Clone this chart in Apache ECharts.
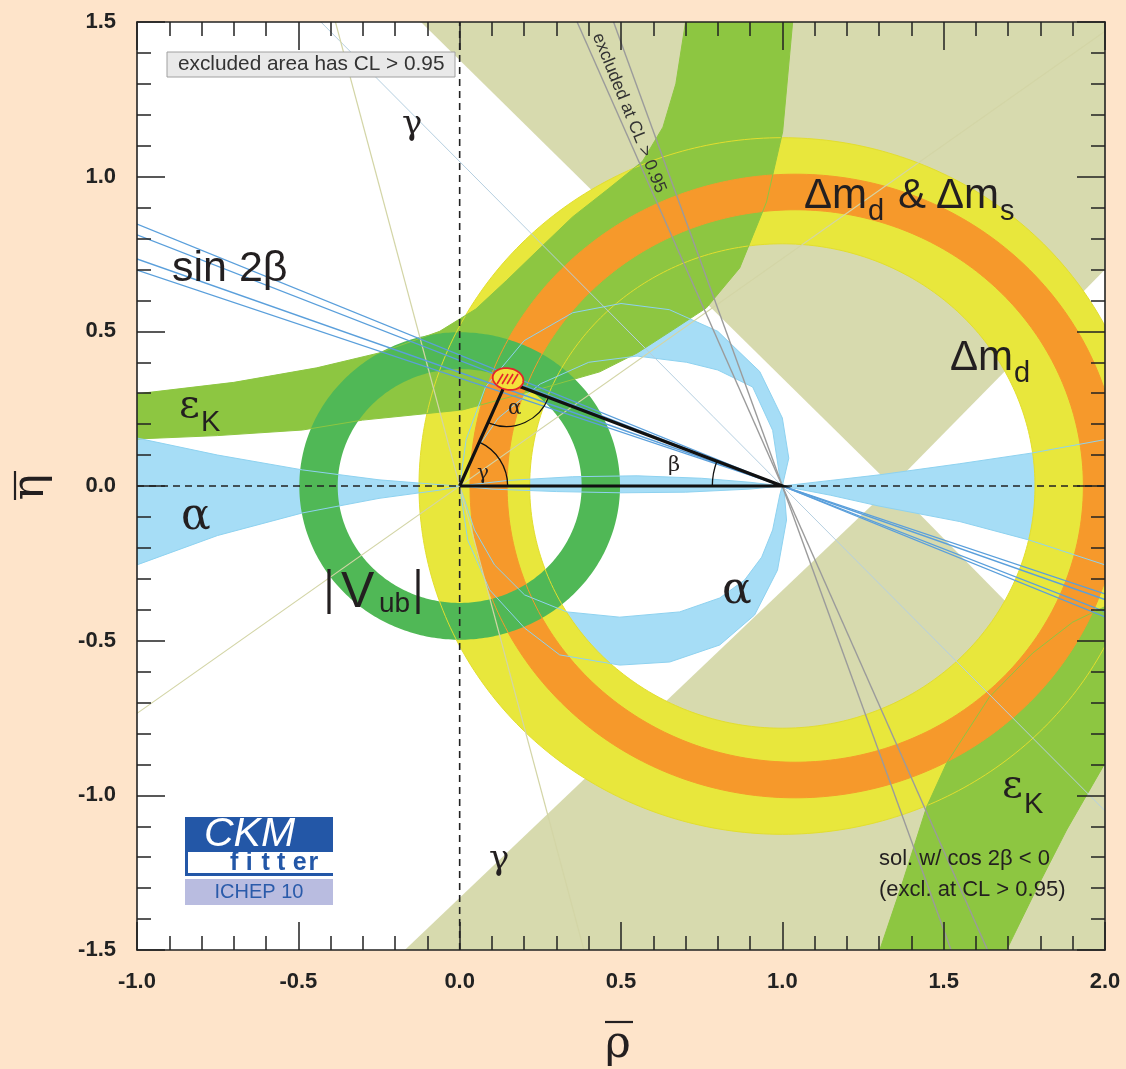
<!DOCTYPE html>
<html><head><meta charset="utf-8">
<script src="https://cdn.jsdelivr.net/npm/echarts@6/dist/echarts.min.js"></script>
<style>html,body{margin:0;padding:0;background:#FEE4CA;}#c{width:1126px;height:1069px;}</style>
</head><body><div id="c"></div>
<script>
// ---------- data (rho-bar, eta-bar coordinates) ----------
const xTickLabels = ['-1.0','-0.5','0.0','0.5','1.0','1.5','2.0'];
const yTickLabels = ['-1.5','-1.0','-0.5','0.0','0.5','1.0','1.5'];

// rings: [centerRho, centerEta, rInner, rOuter]
const dmdRing    = [1.00, 0.0, 0.783, 1.126];
const dmdDmsRing = [1.04, 0.0, 0.893, 1.008];
const vubRing    = [0.00, 0.0, 0.378, 0.497];

// cos2beta < 0 solution (excluded), two wedges
const cos2bUpper = [[1.34,0],[-0.12,1.5],[2,1.5],[2,0.70]];
const cos2bLower = [[1.34,0],[-0.17,-1.5],[2,-1.5],[2,-0.70]];

// epsilon_K bands
const epsKUpper = [[-1,0.298],[-0.7,0.335],[-0.443,0.382],[-0.25,0.43],[-0.062,0.50],[0.05,0.572],[0.146,0.665],[0.25,0.77],[0.35,0.87],[0.46,0.96],[0.567,1.05],[0.63,1.16],[0.67,1.3],[0.70,1.5],
  [1.032,1.5],[1.001,1.145],[0.951,0.918],[0.868,0.705],[0.765,0.576],[0.66,0.504],[0.55,0.43],[0.434,0.369],[0.27,0.32],[0.009,0.246],[-0.301,0.213],[-0.487,0.181],[-0.75,0.163],[-1,0.152]];
const epsKLower = [[1.302,-1.5],[1.37,-1.29],[1.447,-1.038],[1.509,-0.896],[1.642,-0.682],[1.776,-0.540],[1.9,-0.44],[2.0,-0.39],
  [2.0,-0.896],[1.881,-1.112],[1.786,-1.306],[1.695,-1.5]];

// alpha regions
const alphaAxis = [[-1,0.155],[-0.75,0.10],[-0.487,0.052],[-0.25,0.02],[-0.06,0.004],[0,0],[0.15,0.018],[0.35,0.03],[0.55,0.033],[0.75,0.025],[0.9,0.012],[1,0],[1.15,0.018],[1.3,0.036],[1.55,0.072],[1.776,0.107],[2,0.15],
  [2,-0.255],[1.766,-0.175],[1.55,-0.115],[1.3,-0.065],[1.15,-0.03],[1,0],[0.9,-0.01],[0.7,-0.02],[0.5,-0.022],[0.3,-0.018],[0.1,-0.01],[0,0],[-0.06,-0.013],[-0.25,-0.04],[-0.487,-0.087],[-0.75,-0.16],[-1,-0.255]];
const alphaUpper = [[0,0],[0.02,0.15],[0.08,0.32],[0.2,0.47],[0.35,0.56],[0.5,0.59],[0.65,0.57],[0.8,0.5],[0.93,0.37],[1.0,0.22],[1.02,0.09],[1.0,0],
  [0.992,0.03],[0.97,0.18],[0.908,0.32],[0.8,0.375],[0.703,0.40],[0.55,0.42],[0.4,0.40],[0.25,0.33],[0.12,0.22],[0.04,0.1]];
const alphaLower = [[0,0],[0.025,-0.175],[0.093,-0.336],[0.201,-0.459],[0.31,-0.546],[0.496,-0.579],[0.651,-0.569],[0.806,-0.514],[0.914,-0.417],[0.985,-0.272],[1.013,-0.11],[1.006,-0.019],[1,0],
  [0.992,-0.029],[0.97,-0.142],[0.936,-0.23],[0.883,-0.304],[0.806,-0.362],[0.682,-0.407],[0.496,-0.424],[0.332,-0.407],[0.201,-0.352],[0.108,-0.255],[0.046,-0.142],[0.015,-0.045]];

// straight-line constraints: [start, end]
const sin2bLines = [[[-1,0.698],[2,-0.349]],[[-1,0.734],[2,-0.367]],[[-1,0.812],[2,-0.406]],[[-1,0.847],[2,-0.4235]]];
const exclLines  = [[[0.364,1.5],[1.636,-1.5]],[[0.477,1.5],[1.523,-1.5]]];
const gammaLines = [[[-1,-0.735],[2,1.47]],[[-0.385,1.5],[0.385,-1.5]]];
const alphaLine  = [[-0.43,1.5],[2,-1.05]];
const zeroLines  = [[[0,-1.5],[0,1.5]],[[-1,0],[2,0]]];

// unitarity triangle apex and fit ellipse [rho, eta, semiRho, semiEta, tilt]
const apex = [0.145, 0.338];
const apexFit = [0.150, 0.346, 0.050, 0.036, -0.35];

// ---------- colours ----------
const C = {khaki:'#D7DAAE', alpha:'#A6DDF6', alphaLine:'#8ED2F0', yellow:'#E8E73C', yellowLine:'#E2DE2E',
  orange:'#F6992B', epsK:'#8DC641', vub:'#50B856', sin2b:'#5A9FDB', gray:'#9B9B9B', gamma:'#D3D5A6', text:'#231F20'};

// ---------- helpers ----------
function P(api, pts){ return pts.map(p => api.coord(p)); }
function circ(api, cx, cy, r, dir){ const out=[]; const n=360; for(let i=0;i<=n;i++){const t=dir*2*Math.PI*i/n; out.push(api.coord([cx+r*Math.cos(t), cy+r*Math.sin(t)]));} return out; }
function d(pts){ return pts.map((p,i)=>(i?'L':'M')+p[0].toFixed(2)+' '+p[1].toFixed(2)).join('')+'Z'; }
function ringEl(api, ring, fill){ return {type:'path', shape:{pathData: d(circ(api,ring[0],ring[1],ring[3],1)) + d(circ(api,ring[0],ring[1],ring[2],-1))}, style:{fill}}; }
function circLine(api, cx, cy, r, stroke, w){ return {type:'polyline', shape:{points:circ(api,cx,cy,r,1)}, style:{stroke, lineWidth:w, fill:null}}; }
function poly(api, pts, fill){ return {type:'polygon', shape:{points:P(api,pts), smooth:0}, style:{fill}}; }
function outline(api, pts, stroke, w){ const q=P(api,pts); q.push(q[0]); return {type:'polyline', shape:{points:q}, style:{stroke, lineWidth:w, fill:null}}; }
function seg(api, s, stroke, w, dash){ return {type:'polyline', shape:{points:P(api,s)}, style:{stroke, lineWidth:w, fill:null, lineDash:dash||null}}; }
function layer(z, build){ return {type:'custom', coordinateSystem:'cartesian2d', clip:true, silent:true, z, data:[[0,0]],
  renderItem:(params, api)=>({type:'group', children: build(api)})}; }

const series = [
  layer(1, api => [poly(api,cos2bUpper,C.khaki), poly(api,cos2bLower,C.khaki)]),
  layer(2, api => [poly(api,alphaAxis,C.alpha), poly(api,alphaUpper,C.alpha), poly(api,alphaLower,C.alpha)]),
  layer(3, api => [ringEl(api,dmdRing,C.yellow)]),
  layer(4, api => [poly(api,epsKUpper,C.epsK), poly(api,epsKLower,C.epsK)]),
  layer(5, api => [ringEl(api,dmdDmsRing,C.orange)]),
  layer(6, api => [ringEl(api,vubRing,C.vub)]),
  layer(7, api => [
    circLine(api,dmdRing[0],dmdRing[1],dmdRing[2],C.yellowLine,1), circLine(api,dmdRing[0],dmdRing[1],dmdRing[3],C.yellowLine,1),
    circLine(api,dmdDmsRing[0],dmdDmsRing[1],dmdDmsRing[2],C.orange,1), circLine(api,dmdDmsRing[0],dmdDmsRing[1],dmdDmsRing[3],C.orange,1),
    outline(api,epsKUpper,C.epsK,1), outline(api,epsKLower,C.epsK,1),
    outline(api,alphaAxis,C.alphaLine,1), outline(api,alphaUpper,C.alphaLine,1), outline(api,alphaLower,C.alphaLine,1),
    seg(api,alphaLine,'#B5CFE0',1)
  ]),
  layer(8, api => [
    ...gammaLines.map(s=>seg(api,s,C.gamma,1.2)),
    ...sin2bLines.map(s=>seg(api,s,C.sin2b,1.3)),
    ...exclLines.map(s=>seg(api,s,C.gray,1.4)),
    ...zeroLines.map(s=>seg(api,s,'#222',1.6,[7,5]))
  ]),
  layer(9, api => {
    const o=api.coord([0,0]), b=api.coord([1,0]), a=api.coord(apex);
    const ang=(p,q)=>Math.atan2(q[1]-p[1], q[0]-p[0]);
    const arcs=[
      {type:'arc', shape:{cx:o[0],cy:o[1],r:48,startAngle:ang(o,a),endAngle:0,clockwise:true}, style:{stroke:'#111',lineWidth:1.3,fill:null}},
      {type:'arc', shape:{cx:a[0],cy:a[1],r:45,startAngle:ang(a,b),endAngle:ang(a,o),clockwise:true}, style:{stroke:'#111',lineWidth:1.3,fill:null}},
      {type:'arc', shape:{cx:b[0],cy:b[1],r:70,startAngle:Math.PI,endAngle:ang(b,a)+2*Math.PI,clockwise:true}, style:{stroke:'#111',lineWidth:1.3,fill:null}}
    ];
    const tri={type:'polyline', shape:{points:[o,b,a,o]}, style:{stroke:'#111',lineWidth:3.2,fill:null,lineJoin:'miter'}};
    const [ex,ey,rx,ry,tilt]=apexFit; const ep=[];
    for(let i=0;i<=72;i++){const t=2*Math.PI*i/72; const u=rx*Math.cos(t), v=ry*Math.sin(t);
      ep.push(api.coord([ex+u*Math.cos(tilt)-v*Math.sin(tilt)*0.6, ey+u*Math.sin(tilt)*0.6+v*Math.cos(tilt)]));}
    const c=api.coord([ex,ey]);
    const hatch=[-8,-3,2,7].map(dx=>({type:'line', shape:{x1:c[0]+dx-3,y1:c[1]+5,x2:c[0]+dx+3,y2:c[1]-5}, style:{stroke:'#E3262B',lineWidth:1.6}}));
    return [tri, ...arcs, {type:'polygon', shape:{points:ep}, style:{fill:'#F4E03C', stroke:'#E3262B', lineWidth:1.8}}, ...hatch];
  })
];

// ---------- text helpers ----------
const SANS='"Liberation Sans", Arial, sans-serif', SERIF='"DejaVu Serif", "Liberation Serif", serif';
function T(x, y, s, size, o){ o=o||{}; return {type:'text', x, y, rotation:o.rot||0, z:100, silent:true,
  style:{text:s, fill:o.color||C.text, fontSize:size, fontFamily:o.family||SANS, fontWeight:o.weight||'normal', fontStyle:o.style||'normal',
    textAlign:o.align||'left', align:o.align||'left', textVerticalAlign:'middle', verticalAlign:'middle'}}; }
function TB(x, base, s, size, o){ return T(x, base-0.34*size, s, size, o); }

const graphics = [
  {type:'rect', shape:{x:167,y:52,width:288,height:25}, style:{fill:'#E9E9E9', stroke:'#A0A0A0', lineWidth:1}, z:99},
  TB(178, 71.5, 'excluded area has CL > 0.95', 20.8, {color:'#333'}),
  T(597, 34, 'excluded at CL > 0.95', 17.5, {rot:-1.186, color:'#333'}),
  TB(402, 137, 'γ', 34, {family:SERIF}),
  TB(489, 872, 'γ', 34, {family:SERIF}),
  TB(172, 284, 'sin 2β', 43),
  TB(179, 420, 'ε', 40, {family:SERIF}), TB(201, 433, 'K', 29),
  TB(1002, 800, 'ε', 40, {family:SERIF}), TB(1024, 815, 'K', 29),
  TB(181, 533, 'α', 44, {family:SERIF}), TB(722, 607, 'α', 44, {family:SERIF}),
  {type:'line', shape:{x1:329,y1:569,x2:329,y2:614}, style:{stroke:C.text, lineWidth:3.2}, z:100},
  TB(341, 610, 'V', 50), TB(379, 614, 'ub', 28),
  {type:'line', shape:{x1:418,y1:569,x2:418,y2:614}, style:{stroke:C.text, lineWidth:3.2}, z:100},
  TB(804, 211, 'Δm', 42), TB(868, 222, 'd', 29), TB(898, 211, '&', 42), TB(936, 211, 'Δm', 42), TB(1000, 222, 's', 29),
  TB(950, 373, 'Δm', 42), TB(1014, 384, 'd', 29),
  TB(508, 416, 'α', 20, {family:SERIF}), TB(477, 481, 'γ', 20, {family:SERIF}), TB(668, 473, 'β', 21, {family:SERIF}),
  TB(879, 866, 'sol. w/ cos 2β < 0', 22), TB(879, 897, '(excl. at CL > 0.95)', 22),
  {type:'rect', shape:{x:185,y:817,width:148,height:59}, style:{fill:'#2357A7'}, z:99},
  {type:'rect', shape:{x:188,y:852,width:145,height:21}, style:{fill:'#FFFFFF'}, z:99},
  {type:'rect', shape:{x:185,y:879,width:148,height:26}, style:{fill:'#B9BCE0'}, z:99},
  TB(204, 849, 'CKM', 41, {color:'#FFFFFF', style:'italic'}),
  ...['f','i','t','t','e','r'].map((ch,i)=>TB(230+i*15.7, 872, ch, 25, {color:'#2357A7', weight:'bold'})),
  T(259, 892, 'ICHEP 10', 20, {color:'#2A5BAA', align:'center'}),
  T(32, 487, 'η', 44, {family:SERIF, rot:Math.PI/2, align:'center'}),
  {type:'line', shape:{x1:15,y1:471,x2:15,y2:500}, style:{stroke:C.text, lineWidth:2.2}, z:100},
  T(618, 1046, 'ρ', 44, {family:SERIF, align:'center'}),
  {type:'line', shape:{x1:605,y1:1022,x2:633,y2:1022}, style:{stroke:C.text, lineWidth:2.2}, z:100}
];

function axisCommon(labels, minV, show){ return {
  type:'value', z:10, axisLine:{show:true, onZero:false, lineStyle:{color:'#222', width:1.6}},
  axisTick:{show:true, inside:true, length:28, lineStyle:{color:'#222', width:1.5}},
  minorTick:{show:true, splitNumber:5, length:14, lineStyle:{color:'#222', width:1.5}},
  splitLine:{show:false}, minorSplitLine:{show:false},
  axisLabel:{show:show, fontSize:22, fontWeight:'bold', color:'#222', fontFamily:SANS, margin:21,
    formatter:(v)=>labels[Math.round((v-minV)/0.5)] }
};}

const option = {
  animation:false,
  backgroundColor:'#FEE4CA',
  grid:{left:137, top:22, width:968, height:928, show:true, backgroundColor:'#FFFFFF', borderWidth:0},
  xAxis:[Object.assign(axisCommon(xTickLabels,-1,true),{min:-1,max:2,interval:0.5,position:'bottom'}),
         Object.assign(axisCommon(xTickLabels,-1,false),{min:-1,max:2,interval:0.5,position:'top'})],
  yAxis:[Object.assign(axisCommon(yTickLabels,-1.5,true),{min:-1.5,max:1.5,interval:0.5,position:'left'}),
         Object.assign(axisCommon(yTickLabels,-1.5,false),{min:-1.5,max:1.5,interval:0.5,position:'right'})],
  series,
  graphic: graphics
};
const chart = echarts.init(document.getElementById('c'));
chart.setOption(option);
</script></body></html>
